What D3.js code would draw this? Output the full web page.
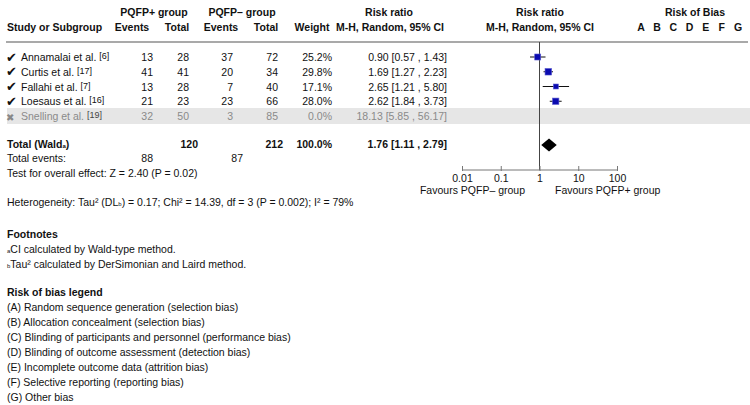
<!DOCTYPE html>
<html>
<head>
<meta charset="utf-8">
<script src="https://cdn.jsdelivr.net/npm/d3@7"></script>
<style>
  body { margin: 0; background: #fff; }
  svg { font-family: "Liberation Sans", Arial, sans-serif; font-size: 10.5px; }
</style>
</head>
<body>
<svg width="750" height="405"></svg>
<script>
// data
var studies = ['Annamalai et al.', 'Curtis et al.', 'Fallahi et al.', 'Loesaus et al.', 'Snelling et al.'];
var refs = ['[6]', '[17]', '[7]', '[16]', '[19]'];
var included = [true, true, true, true, false];
var events1 = [13, 41, 13, 21, 32];
var total1 = [28, 41, 28, 23, 50];
var events2 = [37, 20, 7, 23, 3];
var total2 = [72, 34, 40, 66, 85];
var weight = [25.2, 29.8, 17.1, 28.0, 0.0];
var rr = [0.90, 1.69, 2.65, 2.62, 18.13];
var rrLo = [0.57, 1.27, 1.21, 1.84, 5.85];
var rrHi = [1.43, 2.23, 5.80, 3.73, 56.17];
var pooled = [1.11, 1.76, 2.79];
var totals = [120, 212];
var totalEvents = [88, 87];
var axisTicks = [0.01, 0.1, 1, 10, 100];
var biasLetters = ['A', 'B', 'C', 'D', 'E', 'F', 'G'];
var biasLegend = [
  '(A) Random sequence generation (selection bias)',
  '(B) Allocation concealment (selection bias)',
  '(C) Blinding of participants and personnel (performance bias)',
  '(D) Blinding of outcome assessment (detection bias)',
  '(E) Incomplete outcome data (attrition bias)',
  '(F) Selective reporting (reporting bias)',
  '(G) Other bias'
];

var svg = d3.select('svg');
var fmt = d3.format('.2f');

var x = d3.scaleLog().domain([0.01, 100]).range([462, 617]);
var rowY = d3.scalePoint().domain(d3.range(studies.length)).range([57, 116]);
var biasX = d3.scalePoint().domain(biasLetters).range([641, 738]);

function txt(t, px, py, anchor, bold) {
  return svg.append('text').attr('x', px).attr('y', py + 4)
    .attr('text-anchor', anchor || 'start')
    .attr('font-weight', bold ? 'bold' : null)
    .attr('fill', '#111').text(t);
}

// headers
txt('PQFP+ group', 154, 12, 'middle', true);
txt('PQFP\u2013 group', 242, 12, 'middle', true);
txt('Risk ratio', 389, 12, 'middle', true);
txt('Risk ratio', 540, 12, 'middle', true);
txt('Risk of Bias', 695, 12, 'middle', true);
txt('Study or Subgroup', 7, 27, 'start', true);
txt('Events', 132, 27, 'middle', true);
txt('Total', 177, 27, 'middle', true);
txt('Events', 221, 27, 'middle', true);
txt('Total', 266, 27, 'middle', true);
txt('Weight', 312, 27, 'middle', true);
txt('M-H, Random, 95% CI', 390, 27, 'middle', true);
txt('M-H, Random, 95% CI', 540, 27, 'middle', true);
biasLetters.forEach(function (b) { txt(b, biasX(b), 27, 'middle', true); });

svg.append('line').attr('x1', 6).attr('x2', 748).attr('y1', 42).attr('y2', 42)
  .attr('stroke', '#555').attr('stroke-width', 1.2);

// excluded study band
studies.forEach(function (s, i) {
  if (!included[i]) {
    svg.append('rect').attr('x', 7).attr('y', rowY(i) - 8).attr('width', 743).attr('height', 16)
      .attr('fill', '#e6e6e6');
  }
});

// vertical line of no effect
svg.append('line').attr('x1', x(1)).attr('x2', x(1)).attr('y1', 42).attr('y2', 170)
  .attr('stroke', '#444').attr('stroke-width', 1);

// study rows
studies.forEach(function (s, i) {
  var y = rowY(i);
  var col = included[i] ? '#111' : '#8a8a8a';
  svg.append('text').attr('x', 6).attr('y', y + 4.5).attr('font-size', included[i] ? 13 : 10)
    .attr('fill', included[i] ? '#111' : '#888')
    .attr('font-family', 'DejaVu Sans').text(included[i] ? '\u2714' : '\u2716');
  var t = svg.append('text').attr('x', 21).attr('y', y + 4).attr('fill', col);
  t.append('tspan').text(s + ' ');
  t.append('tspan').attr('font-size', 9).attr('dy', -2)
    .attr('fill', included[i] ? '#111' : '#444').text(refs[i]);
  txt(events1[i], 153, y, 'end').attr('fill', col);
  txt(total1[i], 189, y, 'end').attr('fill', col);
  txt(events2[i], 233, y, 'end').attr('fill', col);
  txt(total2[i], 278, y, 'end').attr('fill', col);
  txt(weight[i].toFixed(1) + '%', 332, y, 'end').attr('fill', col);
  txt(fmt(rr[i]) + ' [' + fmt(rrLo[i]) + ' , ' + fmt(rrHi[i]) + ']', 447, y, 'end').attr('fill', col);

  if (included[i]) {
    svg.append('line').attr('x1', x(rrLo[i])).attr('x2', x(rrHi[i]))
      .attr('y1', y).attr('y2', y).attr('stroke', '#111').attr('stroke-width', 1);
    var sz = 1.2 * Math.sqrt(weight[i]);
    svg.append('rect').attr('x', x(rr[i]) - sz / 2).attr('y', y - sz / 2)
      .attr('width', sz).attr('height', sz)
      .attr('fill', '#0b0bb0').attr('stroke', '#5a5ad0').attr('stroke-width', 0.6);
  }
});

// total row
var ty = 145;
var tw = txt('', 7, ty - 1, 'start', true);
tw.append('tspan').text('Total (Wald');
tw.append('tspan').attr('font-size', 6).text('a');
tw.append('tspan').text(')');
txt(totals[0], 198, ty - 1, 'end', true);
txt(totals[1], 283, ty - 1, 'end', true);
txt('100.0%', 332, ty - 1, 'end', true);
txt(fmt(pooled[1]) + ' [' + fmt(pooled[0]) + ' , ' + fmt(pooled[2]) + ']', 447, ty - 1, 'end', true);
svg.append('path')
  .attr('d', 'M' + x(pooled[0]) + ',' + ty + 'L' + x(pooled[1]) + ',' + (ty - 6.5) +
    'L' + x(pooled[2]) + ',' + ty + 'L' + x(pooled[1]) + ',' + (ty + 6.5) + 'Z')
  .attr('fill', '#000');

txt('Total events:', 7, 158);
txt(totalEvents[0], 153, 158, 'end');
txt(totalEvents[1], 243, 158, 'end');
txt('Test for overall effect: Z = 2.40 (P = 0.02)', 7, 173);

// axis
var axis = d3.axisBottom(x).tickValues(axisTicks).tickSize(-4).tickPadding(6)
  .tickFormat(function (d) { return String(d); });
var ag = svg.append('g').attr('transform', 'translate(0,170)').call(axis);
ag.select('.domain').attr('stroke', '#777').attr('d', 'M' + x(0.01) + ',0H' + x(100));
ag.selectAll('.tick line').attr('stroke', '#777').attr('y1', 1);
ag.selectAll('.tick text').attr('font-size', 10.5).attr('fill', '#111')
  .attr('font-family', '"Liberation Sans", Arial, sans-serif').attr('dy', '0.35em').attr('y', 8);
txt('Favours PQFP\u2013 group', 525, 190, 'end');
txt('Favours PQFP+ group', 555, 190, 'start');

// heterogeneity
var het = txt('', 7, 202);
het.append('tspan').text('Heterogeneity: Tau\u00b2 (DL');
het.append('tspan').attr('font-size', 6).text('b');
het.append('tspan').text(') = 0.17; Chi\u00b2 = 14.39, df = 3 (P = 0.002); I\u00b2 = 79%');

// footnotes
txt('Footnotes', 7, 234, 'start', true);
var f1 = txt('', 7, 249);
f1.append('tspan').attr('font-size', 6).text('a');
f1.append('tspan').text('CI calculated by Wald-type method.');
var f2 = txt('', 7, 264);
f2.append('tspan').attr('font-size', 6).text('b');
f2.append('tspan').text('Tau\u00b2 calculated by DerSimonian and Laird method.');

txt('Risk of bias legend', 7, 292, 'start', true);
biasLegend.forEach(function (l, i) { txt(l, 7, 307 + i * 15); });
</script>
</body>
</html>
